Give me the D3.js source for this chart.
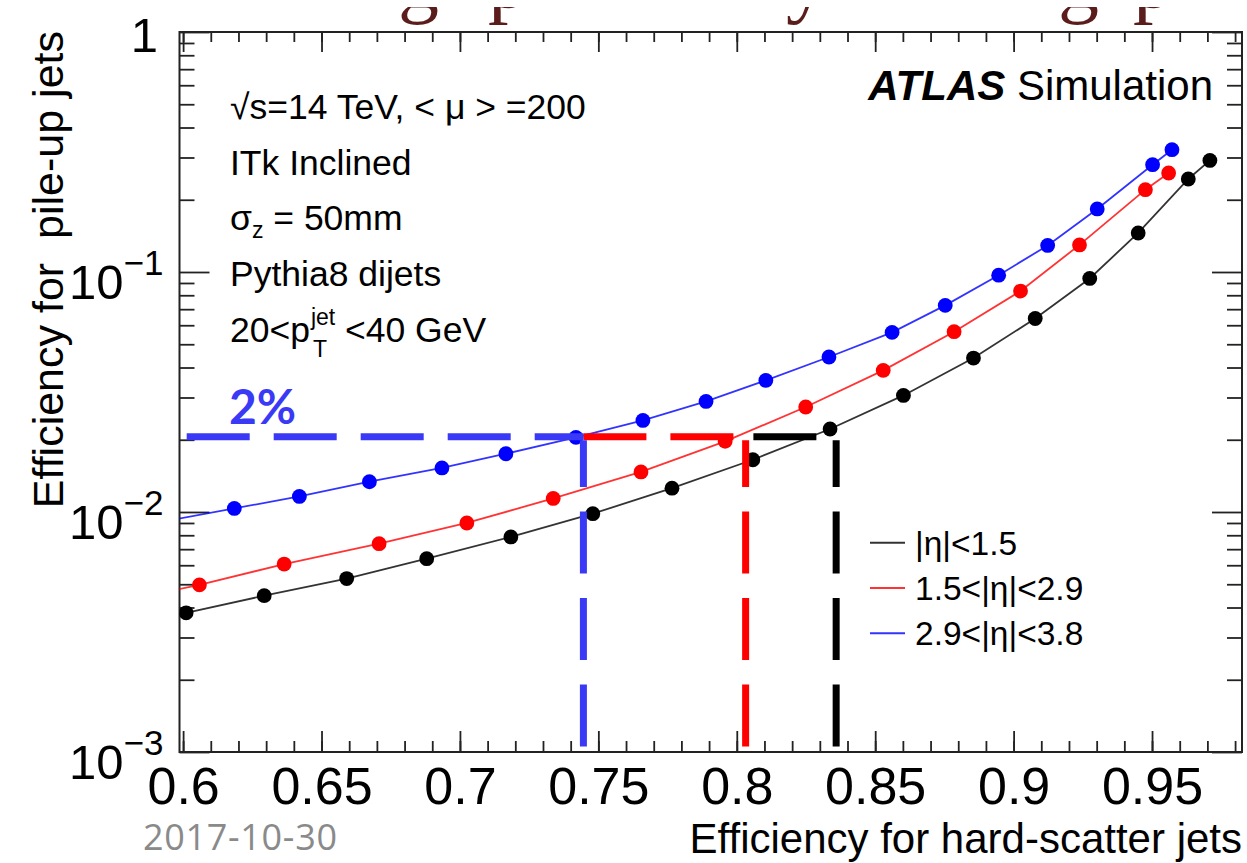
<!DOCTYPE html>
<html>
<head>
<meta charset="utf-8">
<script src="https://cdnjs.cloudflare.com/ajax/libs/d3/7.8.5/d3.min.js"></script>
<style>
  body { margin: 0; background: #fff; }
  svg text { font-family: "Liberation Sans", Arial, Helvetica, sans-serif; }
</style>
</head>
<body>
<div id="chart"></div>
<script>
// Pile-up jet efficiency vs hard-scatter jet efficiency (ATLAS ITk)

// |eta| < 1.5 (black)
var hsEffBarrel = [0.5736, 0.6011, 0.6293, 0.6591, 0.6880, 0.7184, 0.7480, 0.7766, 0.8058,
    0.8337, 0.8602, 0.8855, 0.9078, 0.9275, 0.9450, 0.9631, 0.9709];
var puEffBarrel = [0.00323, 0.00380, 0.00448, 0.00528, 0.00639, 0.00787, 0.00984, 0.01257, 0.01651,
    0.02217, 0.0306, 0.0438, 0.0640, 0.0940, 0.1454, 0.2441, 0.2917];

// 1.5 < |eta| < 2.9 (red)
var hsEffEndcap = [0.5754, 0.6059, 0.6365, 0.6708, 0.7025, 0.7337, 0.7654, 0.7958, 0.8249,
    0.8529, 0.8785, 0.9025, 0.9238, 0.9476, 0.9560];
var puEffEndcap = [0.00421, 0.00497, 0.00607, 0.00738, 0.00900, 0.01139, 0.01469, 0.01969, 0.02738,
    0.0389, 0.0564, 0.0833, 0.1297, 0.2203, 0.2585];

// 2.9 < |eta| < 3.8 (blue)
var hsEffForward = [0.5946, 0.6185, 0.6420, 0.6673, 0.6935, 0.7166, 0.7419, 0.7661, 0.7889,
    0.8105, 0.8333, 0.8561, 0.8753, 0.8946, 0.9123, 0.9302, 0.9502, 0.9572];
var puEffForward = [0.00920, 0.01035, 0.01161, 0.01337, 0.01526, 0.01749, 0.02046, 0.02407, 0.02889,
    0.03534, 0.04424, 0.05603, 0.07259, 0.09698, 0.1290, 0.1831, 0.2799, 0.3233];

var legendLabels = ["|\u03b7|<1.5", "1.5<|\u03b7|<2.9", "2.9<|\u03b7|<3.8"];

// 2% working point drawn over the plot (black, red, blue)
var cutPuEff = 0.0206;
var cutHsEff = [0.8359, 0.8032, 0.7446];
var cutLineFrom = [0.8060, 0.7446, 0.6013];
var cutLineBottom = 0.001055;

// axis ticks
var xMajorTicks = [0.6, 0.65, 0.7, 0.75, 0.8, 0.85, 0.9, 0.95];
var xTickLabels = ["0.6", "0.65", "0.7", "0.75", "0.8", "0.85", "0.9", "0.95"];
var yMajorTicks = [0.001, 0.01, 0.1, 1];

var infoLines = ["ITk Inclined", "Pythia8 dijets"];

var svgWidth = 1247;
var svgHeight = 863;

var margin = {
    top: 32,
    right: 5,
    bottom: 111,
    left: 179.5
};

var width = svgWidth - margin.left - margin.right;
var height = svgHeight - margin.top - margin.bottom;

var colors = ["#000000", "#ff0000", "#0000ff"];
var cutColors = ["#000000", "#ff0000", "#3a3af6"];
var axisColor = "#222";

var svg = d3
    .select("#chart")
    .append("svg")
    .attr("width", svgWidth)
    .attr("height", svgHeight);

// slide title, only the descenders poke into the picture
var titleClip = svg.append("clipPath").attr("id", "titleClip");
titleClip.append("rect").attr("x", 0).attr("y", 7).attr("width", svgWidth).attr("height", 40);
var titleGroup = svg.append("g").attr("clip-path", "url(#titleClip)");
[["g", 398], ["p", 488], ["y", 786], ["g", 1058], ["p", 1133]].forEach(function(g) {
    titleGroup.append("text")
        .attr("x", g[1])
        .attr("y", 7)
        .style("font-family", "'Liberation Serif', 'Times New Roman', serif")
        .style("font-size", "82px")
        .attr("fill", "#5b1c1c")
        .text(g[0]);
});

var chartGroup = svg
    .append("g")
    .attr("transform", `translate(${margin.left}, ${margin.top})`);

// scales
var xLinearScale = d3.scaleLinear().domain([0.5987, 0.9825]).range([0, width]);
var yLogScale = d3.scaleLog().domain([1e-3, 1]).range([height, 0]);

var xMinorTicks = d3.range(60, 99).map(function(v) { return v / 100; });
var yMinorTicks = [];
[1e-3, 1e-2, 1e-1].forEach(function(dec) {
    for (var k = 2; k <= 9; k++) { yMinorTicks.push(k * dec); }
});

function styleTicks(g) {
    g.select(".domain").remove();
    g.selectAll(".tick line").attr("stroke", axisColor).attr("stroke-width", 1.8);
}

// bottom axis
chartGroup.append("g")
    .attr("transform", `translate(0, ${height})`)
    .call(d3.axisBottom(xLinearScale).tickValues(xMinorTicks).tickSize(-11).tickFormat(""))
    .call(styleTicks);

var bottomAxis = chartGroup.append("g")
    .attr("transform", `translate(0, ${height})`)
    .call(d3.axisBottom(xLinearScale)
        .tickValues(xMajorTicks)
        .tickSize(-21)
        .tickPadding(15)
        .tickFormat(function(d, i) { return xTickLabels[i]; }))
    .call(styleTicks);
bottomAxis.selectAll("text")
    .style("font-size", "52px")
    .attr("fill", "#000");

// top axis
chartGroup.append("g")
    .call(d3.axisTop(xLinearScale).tickValues(xMinorTicks).tickSize(-10).tickFormat(""))
    .call(styleTicks);
chartGroup.append("g")
    .call(d3.axisTop(xLinearScale).tickValues(xMajorTicks).tickSize(-20).tickFormat(""))
    .call(styleTicks);

// left axis
chartGroup.append("g")
    .call(d3.axisLeft(yLogScale).tickValues(yMinorTicks).tickSize(-15).tickFormat(""))
    .call(styleTicks);

var leftAxis = chartGroup.append("g")
    .call(d3.axisLeft(yLogScale).tickValues(yMajorTicks).tickSize(-30).tickPadding(16).tickFormat(""))
    .call(styleTicks);

leftAxis.selectAll(".tick text").each(function(d) {
    var e = Math.round(Math.log10(d));
    var t = d3.select(this)
        .attr("dy", null)
        .attr("fill", "#000")
        .style("font-size", "49px");
    if (e === 0) {
        t.attr("x", -21.5).attr("y", 19).text("1");
    } else {
        t.attr("y", 26);
        t.append("tspan").text("10");
        t.append("tspan").attr("dy", -24).style("font-size", "35px").text("\u2212" + (-e));
    }
});

// right axis
chartGroup.append("g")
    .attr("transform", `translate(${width}, 0)`)
    .call(d3.axisRight(yLogScale).tickValues(yMinorTicks).tickSize(-15).tickFormat(""))
    .call(styleTicks);
chartGroup.append("g")
    .attr("transform", `translate(${width}, 0)`)
    .call(d3.axisRight(yLogScale).tickValues(yMajorTicks).tickSize(-30).tickFormat(""))
    .call(styleTicks);

// frame
chartGroup.append("rect")
    .attr("width", width)
    .attr("height", height)
    .attr("fill", "none")
    .attr("stroke", axisColor)
    .attr("stroke-width", 2);

// graphs, clipped to the frame
chartGroup.append("clipPath").attr("id", "frameClip")
    .append("rect").attr("width", width).attr("height", height);

var seriesData = [
    d3.zip(hsEffBarrel, puEffBarrel),
    d3.zip(hsEffEndcap, puEffEndcap),
    d3.zip(hsEffForward, puEffForward)
];

var line = d3.line()
    .x(d => xLinearScale(d[0]))
    .y(d => yLogScale(d[1]));

var dataGroup = chartGroup.append("g").attr("clip-path", "url(#frameClip)");

seriesData.forEach(function(pts, i) {
    dataGroup.append("path")
        .datum(pts)
        .attr("d", line)
        .attr("fill", "none")
        .attr("stroke", colors[i])
        .attr("stroke-opacity", 0.8)
        .attr("stroke-width", 1.8);

    dataGroup.selectAll(".dot" + i)
        .data(pts)
        .enter()
        .append("circle")
        .attr("cx", d => xLinearScale(d[0]))
        .attr("cy", d => yLogScale(d[1]))
        .attr("r", 7.4)
        .attr("fill", colors[i]);
});

// 2% working point dashes
var cutY = yLogScale(cutPuEff);
cutHsEff.forEach(function(xv, i) {
    chartGroup.append("line")
        .attr("x1", xLinearScale(cutLineFrom[i]))
        .attr("x2", xLinearScale(xv))
        .attr("y1", cutY)
        .attr("y2", cutY)
        .attr("stroke", cutColors[i])
        .attr("stroke-width", 7)
        .attr("stroke-dasharray", "63,24");

    chartGroup.append("line")
        .attr("x1", xLinearScale(xv))
        .attr("x2", xLinearScale(xv))
        .attr("y1", yLogScale(cutLineBottom))
        .attr("y2", cutY + 3.5)
        .attr("stroke", cutColors[i])
        .attr("stroke-width", 7)
        .attr("stroke-dasharray", "62,24.5");
});

svg.append("text")
    .attr("x", 229)
    .attr("y", 424)
    .attr("fill", "#3a3af6")
    .style("font-family", "Lato, 'Noto Sans', sans-serif")
    .style("font-weight", "bold")
    .style("font-size", "48px")
    .text("2%");

// legend
var legendGroup = svg.append("g");
legendLabels.forEach(function(lbl, i) {
    var ly = 542.7 + i * 45.3;
    legendGroup.append("line")
        .attr("x1", 870).attr("x2", 905)
        .attr("y1", ly).attr("y2", ly)
        .attr("stroke", colors[i])
        .attr("stroke-opacity", 0.8)
        .attr("stroke-width", 2);
    legendGroup.append("text")
        .attr("x", 915)
        .attr("y", ly + 12)
        .style("font-size", "33.5px")
        .text(lbl);
});

// ATLAS label
var atlas = svg.append("text")
    .attr("x", 1213)
    .attr("y", 100)
    .attr("text-anchor", "end")
    .style("font-size", "42px");
atlas.append("tspan").style("font-weight", "bold").style("font-style", "italic").text("ATLAS");
atlas.append("tspan").text(" Simulation");

// info text block
var infoX = 230;
var infoSize = "35.5px";

var l1 = svg.append("text").attr("x", infoX).attr("y", 119).style("font-size", infoSize);
l1.append("tspan").text("\u221as=14 TeV, < \u03bc > =200");

svg.append("text").attr("x", infoX).attr("y", 175).style("font-size", infoSize).text(infoLines[0]);

var l3 = svg.append("text").attr("x", infoX).attr("y", 230).style("font-size", infoSize);
l3.append("tspan").text("\u03c3");
l3.append("tspan").attr("dy", 8).style("font-size", "23px").text("z");
l3.append("tspan").attr("dy", -8).text(" = 50mm");

svg.append("text").attr("x", infoX).attr("y", 286).style("font-size", infoSize).text(infoLines[1]);

var l5 = svg.append("text").attr("x", infoX).attr("y", 342).style("font-size", infoSize).text("20<p");
var l5w = l5.node().getComputedTextLength();
svg.append("text").attr("x", infoX + l5w + 1).attr("y", 325).style("font-size", "23px").text("jet");
svg.append("text").attr("x", infoX + l5w + 3).attr("y", 357).style("font-size", "23px").text("T");
svg.append("text").attr("x", infoX + l5w + 35).attr("y", 342).style("font-size", infoSize).text("<40 GeV");

// axis titles
svg.append("text")
    .attr("x", 1242)
    .attr("y", 853)
    .attr("text-anchor", "end")
    .style("font-size", "42px")
    .text("Efficiency for hard-scatter jets");

svg.append("text")
    .attr("transform", "translate(63, 31) rotate(-90)")
    .attr("text-anchor", "end")
    .style("font-size", "43px")
    .style("white-space", "pre")
    .text("Efficiency for  pile-up jets");

// slide date
svg.append("text")
    .attr("x", 143)
    .attr("y", 850)
    .attr("fill", "#8a8a8a")
    .attr("textLength", 194)
    .style("font-family", "'Open Sans', Lato, sans-serif")
    .style("font-size", "36px")
    .text("2017-10-30");
</script>
</body>
</html>
